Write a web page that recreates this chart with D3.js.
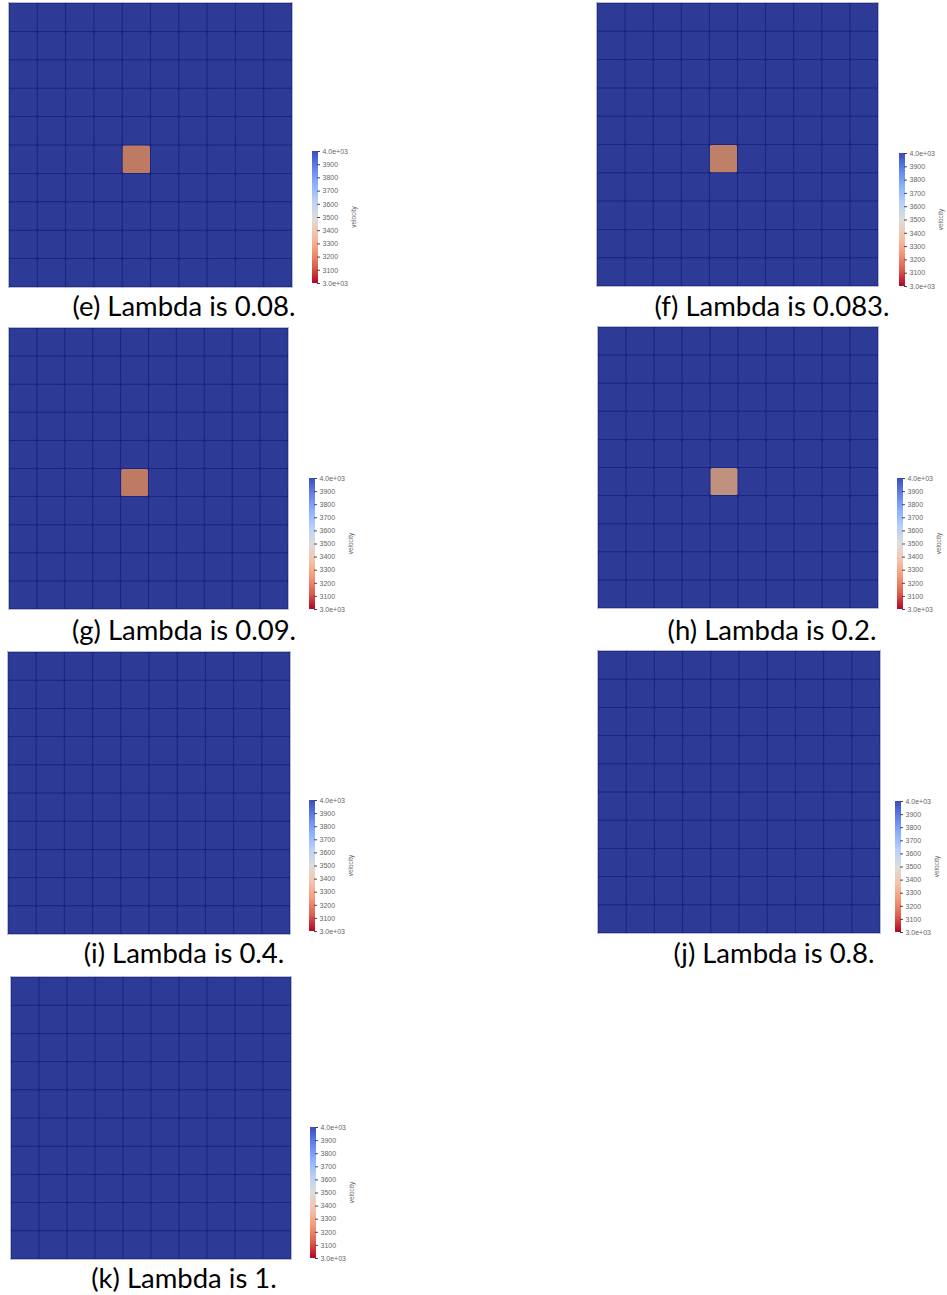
<!DOCTYPE html>
<html>
<head>
<meta charset="utf-8">
<script src="https://cdn.jsdelivr.net/npm/d3@7"></script>
<style>
  html, body { margin: 0; padding: 0; background: #fff; }
  svg { display: block; }
</style>
</head>
<body>
<script>
// ---- data ---------------------------------------------------------------
const panelLetters      = ['e', 'f', 'g', 'h', 'i', 'j', 'k'];
const lambdaValues      = ['0.08', '0.083', '0.09', '0.2', '0.4', '0.8', '1'];
const backgroundVelocity = 4000;
const inclusionVelocity = [3260, 3280, 3255, 3345, 4000, 4000, 4000];
const inclusionCell     = { row: 5, col: 4 };
const gridCount         = 10;
const colorbarTicks     = [4000, 3900, 3800, 3700, 3600, 3500, 3400, 3300, 3200, 3100, 3000];
const colorbarLabels    = ['4.0e+03', '3900', '3800', '3700', '3600', '3500', '3400', '3300', '3200', '3100', '3.0e+03'];
const colorbarTitle     = 'velocity';
const velocityDomain    = [3000, 4000];

// cool-to-warm diverging map, blue at the high end
const coolWarm = ['#b40426', '#de604d', '#f49a7b', '#f5c4ad', '#dddddd',
                  '#b8d0f9', '#8db0fe', '#6282ea', '#3b4cc0'];

// ---- layout -------------------------------------------------------------
const frames = [
  { gx: 9,   gy: 3,   gw: 283, gh: 284, bx: 312, by0: 151,  by1: 283,  cx: 184, cy: 316 },
  { gx: 597, gy: 3,   gw: 281, gh: 283, bx: 899, by0: 153,  by1: 286,  cx: 772, cy: 316 },
  { gx: 9,   gy: 328, gw: 279, gh: 281, bx: 309, by0: 478,  by1: 609,  cx: 184, cy: 640 },
  { gx: 598, gy: 327, gw: 280, gh: 281, bx: 897, by0: 478,  by1: 609,  cx: 772, cy: 640 },
  { gx: 8,   gy: 652, gw: 282, gh: 282, bx: 309, by0: 800,  by1: 931,  cx: 184, cy: 963 },
  { gx: 598, gy: 651, gw: 282, gh: 282, bx: 895, by0: 801,  by1: 932,  cx: 774, cy: 963 },
  { gx: 11,  gy: 977, gw: 280, gh: 282, bx: 310, by0: 1127, by1: 1258, cx: 184, cy: 1288 }
];
const barWidth = 6;
const shade = 0.78;   // surface lighting darkens the rendered cells

const color = d3.scaleLinear()
  .domain(d3.range(coolWarm.length).map(i => velocityDomain[0] + i * (velocityDomain[1] - velocityDomain[0]) / (coolWarm.length - 1)))
  .range(coolWarm)
  .interpolate(d3.interpolateRgb)
  .clamp(true);

function lit(v) {
  const c = d3.rgb(color(v));
  return d3.rgb(c.r * shade, c.g * shade, c.b * shade).formatHex();
}

const svg = d3.select('body').append('svg')
  .attr('width', 947).attr('height', 1295);

const defs = svg.append('defs');
const grad = defs.append('linearGradient')
  .attr('id', 'cbar').attr('x1', 0).attr('y1', 1).attr('x2', 0).attr('y2', 0);
grad.selectAll('stop').data(coolWarm).join('stop')
  .attr('offset', (d, i) => i / (coolWarm.length - 1))
  .attr('stop-color', d => d);

panelLetters.forEach((letter, p) => {
  const f = frames[p];
  const g = svg.append('g');

  // velocity field: uniform background with one inclusion cell
  const field = [];
  for (let r = 0; r < gridCount; r++) {
    for (let c = 0; c < gridCount; c++) {
      const inc = r === inclusionCell.row && c === inclusionCell.col;
      field.push({ r, c, v: inc ? inclusionVelocity[p] : backgroundVelocity });
    }
  }

  const x = d3.scaleBand().domain(d3.range(gridCount)).range([f.gx, f.gx + f.gw]);
  const y = d3.scaleBand().domain(d3.range(gridCount)).range([f.gy, f.gy + f.gh]);

  // mesh edges show through the gaps between cells
  g.append('rect')
    .attr('x', f.gx).attr('y', f.gy).attr('width', f.gw).attr('height', f.gh)
    .attr('fill', '#1a257f');

  g.selectAll('rect.cell').data(field).join('rect')
    .attr('class', 'cell')
    .attr('x', d => x(d.c) + 0.5)
    .attr('y', d => y(d.r) + 0.5)
    .attr('width', x.bandwidth() - 1)
    .attr('height', y.bandwidth() - 1)
    .attr('rx', 1.5)
    .attr('fill', d => lit(d.v));

  g.append('rect')
    .attr('x', f.gx - 0.5).attr('y', f.gy - 0.5)
    .attr('width', f.gw + 1).attr('height', f.gh + 1)
    .attr('fill', 'none').attr('stroke', '#a7acc8').attr('stroke-width', 0.8);

  // colour legend
  const cy = d3.scaleLinear().domain(velocityDomain).range([f.by1, f.by0]);
  g.append('rect')
    .attr('x', f.bx).attr('y', f.by0)
    .attr('width', barWidth).attr('height', f.by1 - f.by0)
    .attr('fill', 'url(#cbar)');

  const axis = d3.axisRight(cy)
    .tickValues(colorbarTicks)
    .tickFormat((d, i) => colorbarLabels[i])
    .tickSize(3)
    .tickPadding(2.5);

  const ax = g.append('g')
    .attr('transform', `translate(${f.bx + barWidth - 1},0)`)
    .call(axis);
  ax.select('.domain').remove();
  ax.selectAll('.tick line').attr('stroke', '#444').attr('stroke-width', 1);
  ax.selectAll('.tick text')
    .attr('fill', '#666')
    .style('font-family', 'Liberation Sans, Arial, sans-serif')
    .style('font-size', '7px');

  g.append('text')
    .attr('transform', `translate(${f.bx + 44},${(f.by0 + f.by1) / 2}) rotate(-90)`)
    .attr('text-anchor', 'middle')
    .attr('fill', '#666')
    .style('font-family', 'Liberation Sans, Arial, sans-serif')
    .style('font-size', '6.5px')
    .text(colorbarTitle);

  // sub-figure caption
  g.append('text')
    .attr('class', 'caption')
    .attr('x', f.cx).attr('y', f.cy)
    .attr('text-anchor', 'middle')
    .attr('fill', '#000')
    .style('font-family', 'Lato, "Open Sans", sans-serif')
    .style('font-size', '22px')
    .text(`(${letter}) Lambda is ${lambdaValues[p]}.`);
});

// size the captions so the first spans its printed width
const caps = svg.selectAll('text.caption');
const w0 = caps.node().getComputedTextLength();
const fs = 22 * 223 / w0;
caps.style('font-size', fs.toFixed(2) + 'px');
</script>
</body>
</html>
